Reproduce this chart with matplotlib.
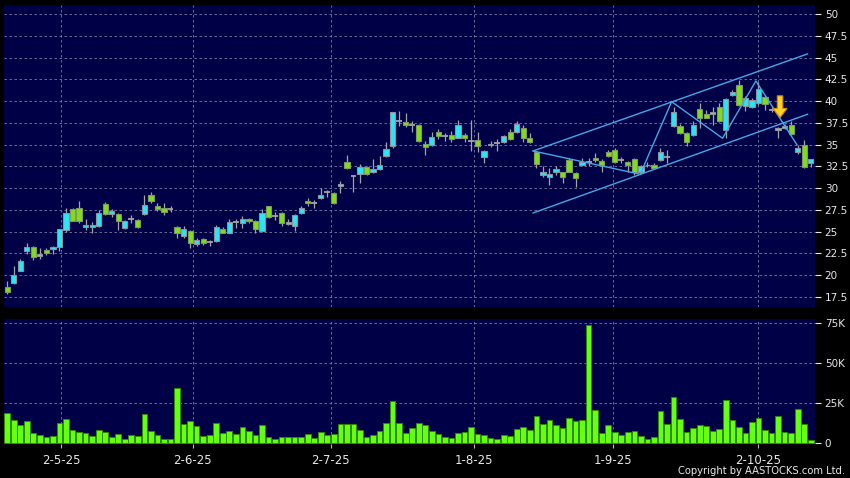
import matplotlib
matplotlib.use('Agg')
import matplotlib.pyplot as plt
from matplotlib.patches import Polygon
import numpy as np

# Дневные свечи (open, high, low, close)
opens = [18.6, 19.1, 20.5, 22.8, 23.2, 22.2, 22.9, 23.0, 23.2, 25.2,
         27.6, 27.7, 25.5, 25.5, 25.6, 28.2, 27.0, 27.0, 25.4, 26.4,
         26.3, 27.0, 29.2, 27.9, 27.7, 27.6, 25.5, 24.5, 25.1, 23.6,
         24.2, 23.8, 23.9, 25.3, 24.9, 26.1, 26.0, 26.4, 26.2, 25.1,
         27.9, 26.85, 27.2, 25.9, 25.7, 27.2, 28.5, 28.3, 28.9, 29.5,
         29.4, 30.2, 33.0, 31.4, 31.6, 32.4, 31.8, 32.2, 33.7, 34.8,
         37.7, 37.6, 37.3, 37.3, 35.1, 34.9, 36.5, 36.0, 36.1, 35.8,
         36.1, 35.45, 35.5, 33.6, 34.9, 35.15, 35.3, 36.4, 36.4, 36.9,
         35.8, 34.2, 31.5, 31.3, 31.8, 31.8, 33.2, 31.7, 32.6, 33.0,
         33.5, 33.1, 34.2, 34.4, 33.2, 33.0, 33.4, 31.9, 32.6, 32.7,
         33.2, 33.6, 37.1, 37.1, 36.3, 36.1, 39.1, 38.5, 38.5, 39.3,
         36.7, 40.7, 41.8, 39.4, 39.3, 39.8, 40.5, 39.0, 36.7, 36.9,
         37.3, 34.1, 35.0, 32.9]
highs = [19.3, 21.1, 21.9, 23.7, 23.3, 23.1, 23.1, 23.4, 25.3, 27.7,
         27.7, 28.5, 26.4, 26.1, 27.5, 28.4, 27.6, 27.1, 26.3, 26.9,
         26.4, 29.2, 29.5, 28.3, 28.3, 28.0, 25.6, 25.7, 25.2, 24.3,
         24.3, 24.1, 25.8, 25.5, 26.5, 26.5, 26.8, 26.6, 26.3, 27.6,
         28.0, 27.3, 27.3, 26.5, 27.0, 28.0, 28.9, 28.6, 30.0, 29.8,
         29.5, 30.8, 33.8, 31.5, 32.8, 32.5, 33.3, 33.7, 35.3, 38.7,
         38.9, 38.6, 37.7, 37.4, 35.4, 36.4, 36.8, 36.3, 36.6, 37.8,
         36.3, 37.8, 36.5, 34.4, 35.4, 35.6, 36.1, 36.8, 37.7, 37.2,
         36.3, 34.3, 32.5, 32.3, 32.5, 31.9, 33.5, 31.8, 33.5, 33.5,
         34.0, 33.3, 34.4, 34.6, 33.6, 33.1, 33.5, 32.7, 33.0, 32.9,
         34.6, 34.4, 39.3, 37.4, 36.4, 37.7, 39.8, 39.0, 39.3, 39.8,
         40.3, 41.3, 42.4, 40.6, 40.3, 42.2, 40.7, 39.3, 37.0, 37.4,
         37.7, 35.0, 35.5, 33.4]
lows = [17.8, 19.0, 20.5, 22.4, 21.7, 21.9, 22.3, 22.4, 22.8, 25.0,
        26.2, 26.0, 25.2, 24.8, 25.5, 26.9, 26.7, 25.2, 25.3, 26.0,
        25.4, 26.9, 28.3, 27.4, 26.9, 27.3, 24.3, 24.3, 23.1, 23.3,
        23.5, 23.4, 23.8, 24.8, 24.8, 25.4, 25.4, 26.0, 24.9, 25.0,
        26.6, 26.3, 25.6, 25.8, 25.1, 27.0, 28.0, 27.7, 28.8, 29.0,
        28.2, 29.4, 32.2, 29.6, 30.6, 31.5, 31.7, 32.1, 33.6, 34.6,
        37.1, 37.0, 36.4, 35.3, 33.8, 34.8, 35.6, 35.4, 35.3, 35.7,
        35.3, 34.3, 34.1, 32.9, 34.7, 34.3, 35.2, 35.5, 36.3, 35.3,
        35.2, 32.3, 31.3, 30.4, 31.5, 30.6, 31.8, 30.1, 32.5, 32.5,
        33.0, 31.9, 33.6, 32.9, 32.9, 31.9, 31.5, 31.7, 32.4, 32.2,
        33.1, 32.9, 37.0, 36.2, 34.8, 36.0, 36.9, 38.0, 37.2, 37.6,
        35.7, 40.6, 39.4, 38.9, 39.2, 39.6, 39.0, 38.7, 35.7, 36.8,
        36.1, 33.9, 32.3, 32.4]
closes = [18.1, 20.0, 21.6, 23.2, 22.1, 22.4, 22.5, 23.2, 25.3, 27.2,
          26.2, 26.2, 25.8, 25.8, 27.2, 27.0, 27.4, 26.2, 26.2, 26.4,
          25.5, 28.1, 28.5, 27.6, 27.3, 27.6, 24.8, 25.3, 23.7, 24.0,
          23.7, 23.8, 25.5, 24.9, 26.1, 26.1, 26.4, 26.2, 25.3, 27.2,
          26.7, 26.85, 26.0, 26.1, 26.9, 27.7, 28.3, 28.3, 29.2, 29.5,
          28.3, 30.5, 32.3, 31.4, 32.4, 31.6, 32.2, 32.6, 34.5, 38.7,
          37.7, 37.2, 37.3, 35.4, 34.7, 35.9, 36.0, 36.0, 35.6, 37.2,
          35.8, 35.45, 34.8, 34.3, 35.1, 35.15, 36.0, 35.6, 37.4, 35.7,
          35.3, 32.8, 31.8, 31.6, 32.2, 31.3, 31.9, 31.2, 33.0, 33.0,
          33.2, 32.7, 33.7, 33.0, 33.2, 32.7, 31.9, 32.5, 32.7, 32.3,
          34.2, 33.6, 38.8, 36.3, 35.3, 37.3, 38.1, 38.1, 38.7, 37.7,
          40.2, 41.0, 39.5, 40.4, 40.1, 41.4, 39.7, 39.0, 36.9, 37.1,
          36.2, 34.6, 32.4, 33.3]
# Объём, тыс.
volumes = [18.8, 14.6, 11.7, 14.2, 6.3, 5.0, 4.0, 4.4, 12.9, 15.0,
           8.5, 6.9, 6.7, 4.6, 8.5, 7.3, 4.0, 5.6, 2.9, 5.2,
           4.8, 18.1, 7.7, 5.0, 2.5, 2.5, 34.8, 12.1, 14.0, 10.8,
           4.6, 5.0, 12.5, 6.3, 7.5, 5.6, 10.2, 7.9, 5.2, 11.3,
           4.0, 2.9, 3.8, 3.8, 3.8, 4.2, 5.8, 3.3, 6.9, 5.0,
           5.8, 12.1, 12.1, 12.3, 8.1, 4.2, 5.2, 7.7, 12.7, 26.5,
           12.5, 6.3, 9.4, 12.5, 11.3, 7.7, 5.6, 4.2, 3.5, 6.5,
           7.3, 10.2, 6.0, 5.4, 3.5, 2.5, 5.0, 4.8, 9.0, 10.2,
           8.1, 17.1, 12.1, 14.6, 11.5, 9.8, 15.8, 14.0, 14.6, 74.0,
           20.6, 6.7, 11.5, 7.1, 5.2, 6.9, 7.5, 4.6, 2.9, 4.0,
           20.2, 12.1, 29.0, 15.2, 7.1, 9.8, 11.5, 10.8, 7.7, 8.8,
           26.9, 14.6, 10.4, 6.7, 13.3, 15.6, 8.3, 6.3, 17.3, 6.9,
           6.3, 21.3, 11.9, 2.1]

date_labels = ['2-5-25', '2-6-25', '2-7-25', '1-8-25', '1-9-25', '2-10-25']
date_pos = [8.3, 28.4, 49.5, 71.5, 92.7, 114.9]

# Канал и зигзаг (индекс свечи, цена)
upper_line = [(80.5, 34.27), (122.5, 45.41)]
lower_line = [(80.5, 27.15), (122.5, 38.48)]
zigzag = [(80.5, 34.27), (96.9, 31.59), (101.7, 39.93), (109.5, 35.73),
          (114.6, 42.31), (120.9, 34.96)]
arrow_x = 118.3
arrow_top = 40.6
arrow_tip = 38.1

BG = '#000046'
GRID = '#7c7ca4'
TXT = '#e8e8e8'
UP = '#2ee4f2'
DOWN = '#80dc1e'


def style_axes(ax):
    ax.set_facecolor(BG)
    for s in ax.spines.values():
        s.set_visible(False)
    ax.yaxis.tick_right()
    ax.tick_params(axis='y', colors=TXT, labelsize=7.5, length=4, width=0.8, pad=3)
    ax.grid(True, axis='y', color=GRID, linestyle=(0, (3, 3)), linewidth=0.6)
    for p in date_pos:
        ax.axvline(p, color=GRID, linestyle=(0, (3, 3)), linewidth=0.6, zorder=0.5)
    ax.set_axisbelow(True)
    ax.set_xlim(-0.49, 123.65)


def draw_candles(ax):
    o = np.array(opens)
    h = np.array(highs)
    lo = np.array(lows)
    c = np.array(closes)
    x = np.arange(len(o))
    ax.vlines(x, lo, h, color='#a4a4a4', linewidth=0.9, zorder=2)
    up = c > o
    dn = c < o
    eq = c == o
    ax.bar(x[up], (c - o)[up], bottom=o[up], width=0.8, color=UP,
           edgecolor='#8a94a0', linewidth=0.8, zorder=3)
    ax.bar(x[dn], (o - c)[dn], bottom=c[dn], width=0.8, color=DOWN,
           edgecolor='#7f9a5c', linewidth=0.8, zorder=3)
    ax.hlines(c[eq], x[eq] - 0.45, x[eq] + 0.45, color='#a4a4a4', linewidth=1.3, zorder=3)


def main():
    fig = plt.figure(figsize=(8.5, 4.78), dpi=100, facecolor='black')
    ax1 = fig.add_axes([4 / 850, 1 - 307 / 478, 811 / 850, 302 / 478])
    ax2 = fig.add_axes([4 / 850, 1 - 444 / 478, 811 / 850, 125 / 478])

    style_axes(ax1)
    ticks = np.arange(17.5, 50.1, 2.5)
    ax1.set_yticks(ticks)
    ax1.set_yticklabels(['%g' % t for t in ticks])
    ax1.set_ylim(16.35, 51.03)
    ax1.set_xticks([])
    draw_candles(ax1)

    line_kw = dict(color='#46a8e4', linewidth=1.0, zorder=4)
    for line in (upper_line, lower_line, zigzag):
        xs, ys = zip(*line)
        ax1.plot(xs, ys, **line_kw)

    head = arrow_tip + (arrow_top - arrow_tip) * 0.42
    arrow = Polygon([(arrow_x - 0.42, arrow_top), (arrow_x + 0.42, arrow_top),
                     (arrow_x + 0.42, head), (arrow_x + 1.07, head),
                     (arrow_x, arrow_tip), (arrow_x - 1.07, head),
                     (arrow_x - 0.42, head)],
                    closed=True, facecolor='#ffd224', edgecolor='#d08a00',
                    linewidth=0.8, zorder=6)
    ax1.add_patch(arrow)

    style_axes(ax2)
    x = np.arange(len(volumes))
    ax2.bar(x, volumes, width=0.87, color='#66ff11', edgecolor='#2e8a00',
            linewidth=0.7, zorder=3)
    ax2.set_ylim(-0.45, 77.7)
    vt = [0, 25, 50, 75]
    ax2.set_yticks(vt)
    ax2.set_yticklabels(['%dK' % v if v else '0' for v in vt])
    ax2.set_xticks(date_pos)
    ax2.set_xticklabels(date_labels)
    ax2.tick_params(axis='x', colors=TXT, labelsize=8.5, length=3, width=0.8, pad=4)
    ax2.tick_params(axis='x', color='#bbbbbb')

    fig.text(845 / 850, 1 - 471 / 478, 'Copyright by AASTOCKS.com Ltd.', color=TXT,
             fontsize=7.2, ha='right', va='center')

    fig.savefig('out.png', dpi=100, facecolor='black')


if __name__ == '__main__':
    main()
